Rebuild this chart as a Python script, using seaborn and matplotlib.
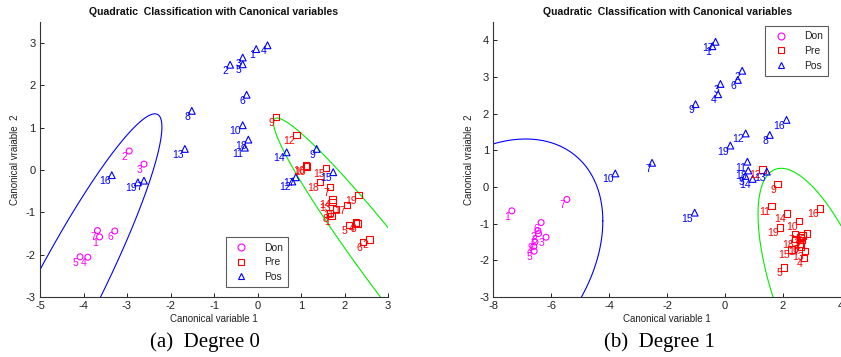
import numpy as np
import pandas as pd
import matplotlib
matplotlib.use("Agg")
import matplotlib.pyplot as plt
import seaborn as sns
from matplotlib.lines import Line2D

sns.set_theme(style="white")
plt.rcParams['font.family'] = ['Liberation Sans', 'DejaVu Sans']

groups = ["Don", "Pre", "Pos"]
colors = {"Don": "#ff00ff", "Pre": "#ff0000", "Pos": "#0000ff"}
markers = {"Don": "o", "Pre": "s", "Pos": "^"}
sizes = {"Don": 18, "Pre": 22, "Pos": 24}

# ---------------- Degree 0 ----------------
d0_don_lbl = [1, 2, 3, 4, 5, 6, 7]
d0_don_x = [-3.63, -2.95, -2.61, -3.90, -4.08, -3.28, -3.68]
d0_don_y = [-1.58, 0.45, 0.14, -2.06, -2.05, -1.44, -1.43]

d0_pre_lbl = list(range(1, 20))
d0_pre_x = [1.70, 2.57, 2.30, 2.26, 2.10, 2.43, 1.67, 1.67, 0.42, 1.14,
            1.80, 0.90, 1.72, 1.72, 1.57, 1.11, 2.06, 1.44, 2.32]
d0_pre_y = [-1.08, -1.64, -1.26, -1.24, -1.30, -1.70, -0.40, -1.02, 1.26, 0.09,
            -0.92, 0.83, -0.76, -0.69, 0.05, 0.11, -0.82, -0.28, -0.59]

d0_pos_lbl = list(range(1, 20))
d0_pos_x = [-0.03, -0.63, -0.34, 0.23, -0.34, -0.25, -2.61, -1.51, 1.36, -0.34,
            -0.29, 0.80, -1.67, 0.67, 1.74, -3.35, 0.88, -0.21, -2.75]
d0_pos_y = [2.86, 2.49, 2.66, 2.95, 2.50, 1.78, -0.25, 1.40, 0.50, 1.06,
            0.53, -0.27, 0.50, 0.42, -0.05, -0.12, -0.17, 0.72, -0.29]

# boundary ellipses: center (cx, cy), conjugate vectors u, v
d0_blue_ell = [-4.55, -3.17, 0.86, 0.0, 2.19, 4.50]
d0_green_ell = [3.45, -2.88, 0.712, 0.0, -3.00, 4.11]

# ---------------- Degree 1 ----------------
d1_don_lbl = [1, 2, 3, 4, 5, 6, 7, 8, 9]
d1_don_x = [-7.36, -6.46, -6.18, -6.60, -6.59, -6.35, -5.46, -6.44, -6.56]
d1_don_y = [-0.65, -1.19, -1.37, -1.62, -1.75, -0.97, -0.34, -1.27, -1.50]

d1_pre_lbl = list(range(1, 20))
d1_pre_x = [2.60, 2.65, 2.82, 2.73, 2.03, 2.58, 2.42, 2.68, 1.81, 2.55,
            1.61, 1.29, 2.76, 2.13, 2.29, 3.27, 2.62, 2.42, 1.90]
d1_pre_y = [-1.36, -1.45, -1.27, -1.93, -2.19, -1.55, -1.28, -1.32, 0.08, -0.93,
            -0.52, 0.48, -1.74, -0.72, -1.70, -0.58, -1.62, -1.42, -1.10]

d1_pos_lbl = list(range(1, 20))
d1_pos_x = [-0.44, 0.59, -0.16, -0.24, 0.70, 0.44, -2.52, 1.54, -1.02, -3.79,
            0.77, 0.71, 1.44, 0.95, -1.05, 2.12, -0.33, 0.80, 0.18]
d1_pos_y = [3.84, 3.17, 2.81, 2.53, 0.30, 2.92, 0.66, 1.42, 2.26, 0.37,
            0.69, 1.46, 0.42, 0.22, -0.70, 1.83, 3.96, 0.45, 1.13]

d1_blue_ell = [-8.36, -2.17, 4.14, 1.242, 0.0, 3.25]
d1_green_ell = [3.39, -3.04, 1.72, 0.0, -1.456, 3.55]

panels = [
    dict(don=(d0_don_lbl, d0_don_x, d0_don_y), pre=(d0_pre_lbl, d0_pre_x, d0_pre_y),
         pos=(d0_pos_lbl, d0_pos_x, d0_pos_y), ells=[(d0_blue_ell, "#0000ff"), (d0_green_ell, "#00ee00")],
         xlim=(-5, 3), ylim=(-3, 3.5), xticks=np.arange(-5, 4, 1), yticks=np.arange(-3, 4, 1),
         caption="(a)  Degree 0", capx=205, legend=("lower left", (0.534, 0.036))),
    dict(don=(d1_don_lbl, d1_don_x, d1_don_y), pre=(d1_pre_lbl, d1_pre_x, d1_pre_y),
         pos=(d1_pos_lbl, d1_pos_x, d1_pos_y), ells=[(d1_blue_ell, "#0000ff"), (d1_green_ell, "#00ee00")],
         xlim=(-8, 4), ylim=(-3, 4.5), xticks=np.arange(-8, 5, 2), yticks=np.arange(-3, 5, 1),
         caption="(b)  Degree 1", capx=659, legend=("upper left", (0.782, 0.985))),
]

fig = plt.figure(figsize=(8.41, 3.57), dpi=100)
ax1 = fig.add_axes([40 / 841, 60 / 357, 348 / 841, 275 / 357])
ax2 = fig.add_axes([493.3 / 841, 60 / 357, 347.7 / 841, 275 / 357])
axes = [ax1, ax2]

t = np.linspace(0, 2 * np.pi, 600)
txt_col = "#222222"

for ax, P in zip(axes, panels):
    for ell, col in P["ells"]:
        cx, cy, ux, uy, vx, vy = ell
        ax.plot(cx + ux * np.cos(t) + vx * np.sin(t),
                cy + uy * np.cos(t) + vy * np.sin(t), color=col, lw=0.8)
    for g, key in zip(groups, ["don", "pre", "pos"]):
        lbl, xs, ys = P[key]
        df = pd.DataFrame({"x": xs, "y": ys, "label": lbl})
        c = colors[g]
        sns.scatterplot(data=df, x="x", y="y", marker=markers[g], s=sizes[g],
                        color=c, facecolor="none", edgecolor=c, linewidth=0.8,
                        ax=ax, legend=False, zorder=3)
        for _, r in df.iterrows():
            ax.annotate(str(int(r["label"])), (r["x"], r["y"]), xytext=(-1, -0.7),
                        textcoords="offset points", ha="right", va="top",
                        fontsize=7.5, color=c, zorder=4)
    ax.set_xlim(*P["xlim"])
    ax.set_ylim(*P["ylim"])
    ax.set_xticks(P["xticks"])
    ax.set_yticks(P["yticks"])
    ax.set_xticklabels([str(int(v)) for v in P["xticks"]])
    ax.set_yticklabels([str(int(v)) for v in P["yticks"]])
    ax.tick_params(direction="in", length=3, width=0.7, labelsize=8,
                   colors=txt_col, pad=3, left=True, bottom=True)
    for s in ["top", "right"]:
        ax.spines[s].set_visible(False)
    for s in ["left", "bottom"]:
        ax.spines[s].set_color("#333333")
        ax.spines[s].set_linewidth(0.8)
    ax.set_xlabel("Canonical variable 1", fontsize=7, color=txt_col, labelpad=2)
    ax.set_ylabel("Canonical vraiable  2", fontsize=7, color=txt_col, labelpad=4)
    ax.set_title("Quadratic  Classification with Canonical variables",
                 fontsize=7.6, fontweight="bold", color="#111111", pad=5)
    handles = [Line2D([], [], ls="none", marker=markers[g], mfc="none", mec=colors[g],
                      ms=5, mew=0.8, label=g) for g in groups]
    loc, anchor = P["legend"]
    leg = ax.legend(handles=handles, loc=loc, bbox_to_anchor=anchor, fontsize=7.5,
                    frameon=True, fancybox=False, borderpad=0.5, labelspacing=0.45,
                    handletextpad=1.2, borderaxespad=0)
    leg.get_frame().set_edgecolor("#333333")
    leg.get_frame().set_linewidth(0.8)
    for tx in leg.get_texts():
        tx.set_color(txt_col)
    fig.text(P["capx"] / 841, 1 - 342 / 357, P["caption"], ha="center", va="center",
             fontsize=15, family=["Liberation Serif", "DejaVu Serif"], color="black")

fig.savefig("out.png", dpi=100)
